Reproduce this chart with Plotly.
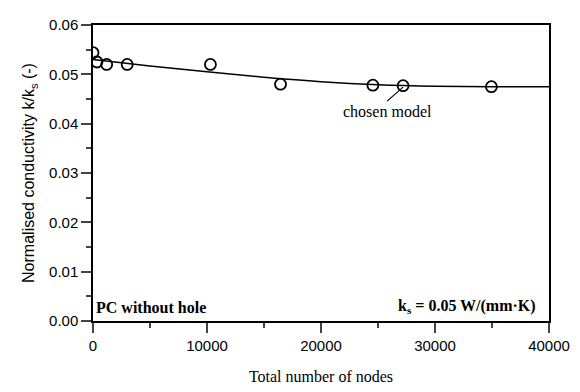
import plotly.graph_objects as go

# measured data points
nodes = [0, 350, 1200, 3000, 10300, 16450, 24550, 27200, 34950]
k_norm = [0.0544, 0.0525, 0.0520, 0.0520, 0.0520, 0.0480, 0.0478, 0.0477, 0.0475]

# fitted trend curve
fit_nodes = [0, 5000, 10000, 15000, 20000, 25000, 30000, 35000, 40000]
fit_k = [0.0530, 0.0517, 0.0505, 0.0494, 0.0485, 0.0479, 0.0476, 0.0475, 0.0475]

x_ticks = [0, 10000, 20000, 30000, 40000]
x_ticktext = ["0", "10000", "20000", "30000", "40000"]
y_ticks = [0, 0.01, 0.02, 0.03, 0.04, 0.05, 0.06]

serif = "Liberation Serif"
sans = "Liberation Sans"

fig = go.Figure()
fig.add_trace(go.Scatter(x=fit_nodes, y=fit_k, mode="lines",
                         line=dict(color="black", width=1.5, shape="spline"),
                         showlegend=False, hoverinfo="skip"))
fig.add_trace(go.Scatter(x=nodes, y=k_norm, mode="markers",
                         marker=dict(symbol="circle-open", size=11, color="black",
                                     line=dict(width=1.8, color="black")),
                         showlegend=False))

fig.add_annotation(x=27200, y=0.0474, text="chosen model", showarrow=True,
                   arrowhead=0, arrowwidth=1.2, arrowcolor="black",
                   ax=-16, ay=14, xanchor="center", yanchor="top",
                   font=dict(family=serif, size=16, color="black"))
fig.add_annotation(x=0.003, y=0.01, xref="paper", yref="paper", text="<b>PC without hole</b>",
                   showarrow=False, xanchor="left", yanchor="bottom",
                   font=dict(family=serif, size=16, color="black"))
fig.add_annotation(x=0.975, y=0.01, xref="paper", yref="paper",
                   text="<b>k<sub>s</sub> = 0.05 W/(mm·K)</b>",
                   showarrow=False, xanchor="right", yanchor="bottom",
                   font=dict(family=serif, size=16, color="black"))

fig.update_layout(
    width=580, height=392,
    margin=dict(l=85, r=39, t=8, b=79),
    paper_bgcolor="white", plot_bgcolor="white",
    font=dict(family=sans, size=15, color="black"),
)
fig.update_xaxes(range=[0, 40000], tickvals=x_ticks, ticktext=x_ticktext,
                 ticks="outside", ticklen=10, tickwidth=1.5, showline=True,
                 linecolor="black", linewidth=1.5, mirror=True, showgrid=False,
                 zeroline=False,
                 minor=dict(dtick=5000, ticks="outside", ticklen=5, tickwidth=1.5, showgrid=False),
                 title=dict(text="Total number of nodes", font=dict(family=serif, size=16), standoff=18),
                 tickfont=dict(family=sans, size=15))
fig.update_yaxes(range=[0, 0.06], tickvals=y_ticks,
                 tickformat=".2f",
                 ticks="outside", ticklen=10, tickwidth=1.5, showline=True,
                 linecolor="black", linewidth=1.5, mirror=True, showgrid=False,
                 zeroline=False,
                 minor=dict(dtick=0.005, ticks="outside", ticklen=5, tickwidth=1.5, showgrid=False),
                 title=dict(text="Normalised conductivity k/k<sub>s</sub> (-)",
                            font=dict(family=sans, size=16), standoff=10),
                 tickfont=dict(family=sans, size=15))

fig.write_html("out.html")
